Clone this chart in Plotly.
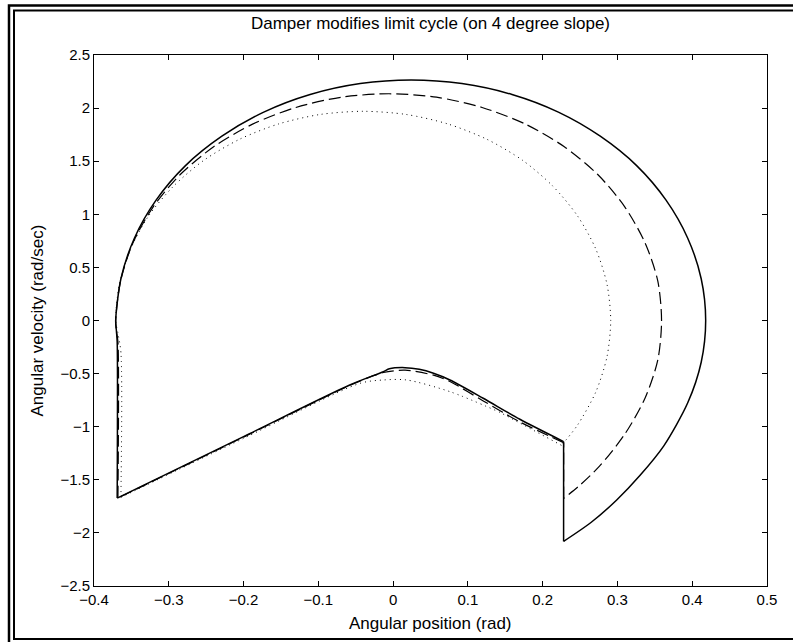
import plotly.graph_objects as go

# ---- data ----
solid_x = [-0.369, -0.369, -0.370, -0.371, -0.364, -0.346, -0.317, -0.278, -0.229, -0.173, -0.111, -0.044,
           0.024, 0.092, 0.159, 0.221, 0.277, 0.326, 0.365, 0.394, 0.412, 0.418, 0.412, 0.394, 0.362,
           0.330, 0.299, 0.265, 0.228, 0.228, 0.1695, 0.1205, 0.076, 0.054, 0.035, 0.016, -0.005,
           -0.013, -0.058, -0.200, -0.369]
solid_y = [-1.672, -0.200, -0.100, 0.000, 0.393, 0.775, 1.133, 1.456, 1.735, 1.962, 2.128, 2.231,
           2.265, 2.231, 2.128, 1.962, 1.735, 1.456, 1.133, 0.775, 0.393, 0.000, -0.393, -0.775, -1.180,
           -1.460, -1.690, -1.900, -2.080, -1.140, -0.930, -0.732, -0.560, -0.497, -0.460, -0.444, -0.455,
           -0.482, -0.607, -1.093, -1.672]

dashed_x = [-0.368, -0.368, -0.370, -0.371, -0.3645, -0.348, -0.321, -0.285, -0.240, -0.188, -0.130, -0.069,
            -0.0055, 0.058, 0.119, 0.177, 0.229, 0.274, 0.310, 0.337, 0.354, 0.359, 0.354, 0.337, 0.310,
            0.276, 0.2475, 0.228, 0.228, 0.1695, 0.120, 0.076, 0.054, 0.016, -0.013, -0.058, -0.200, -0.368]
dashed_y = [-1.672, -0.200, -0.100, 0.000, 0.371, 0.730, 1.068, 1.372, 1.636, 1.849, 2.006, 2.103,
            2.135, 2.103, 2.006, 1.849, 1.636, 1.372, 1.068, 0.730, 0.371, 0.000, -0.371, -0.730, -1.068,
            -1.372, -1.565, -1.675, -1.150, -0.955, -0.755, -0.575, -0.515, -0.468, -0.490, -0.612, -1.098, -1.672]

dotted_x = [-0.364, -0.364, -0.368, -0.371, -0.366, -0.351, -0.327, -0.2935, -0.253, -0.2055, -0.153, -0.0976,
            -0.040, 0.0176, 0.073, 0.1255, 0.173, 0.2135, 0.2466, 0.271, 0.286, 0.291, 0.286, 0.271, 0.2466,
            0.227, 0.225, 0.143, 0.076, 0.018, -0.013, -0.044, -0.200, -0.364]
dotted_y = [-1.665, -0.300, -0.120, 0.000, 0.342, 0.674, 0.985, 1.266, 1.509, 1.706, 1.851, 1.940,
            1.970, 1.940, 1.851, 1.706, 1.509, 1.266, 0.985, 0.674, 0.342, 0.000, -0.342, -0.674, -0.985,
            -1.160, -1.175, -0.865, -0.670, -0.560, -0.560, -0.591, -1.110, -1.665]

x_ticks = [-0.4, -0.3, -0.2, -0.1, 0, 0.1, 0.2, 0.3, 0.4, 0.5]
x_tick_labels = ["\u22120.4", "\u22120.3", "\u22120.2", "\u22120.1", "0", "0.1", "0.2", "0.3", "0.4", "0.5"]
y_ticks = [-2.5, -2, -1.5, -1, -0.5, 0, 0.5, 1, 1.5, 2, 2.5]
y_tick_labels = ["\u22122.5", "\u22122", "\u22121.5", "\u22121", "\u22120.5", "0", "0.5", "1", "1.5", "2", "2.5"]

title_text = "Damper modifies limit cycle (on 4 degree slope)"
x_title = "Angular position (rad)"
y_title = "Angular velocity (rad/sec)"

FONT = "Liberation Sans, Arial, sans-serif"
TICK_SIZE = 15
TITLE_SIZE = 17

styles = {
    "solid": dict(color="black", width=1.5),
    "dashed": dict(color="black", width=1.2, dash="12px,5px"),
    "dotted": dict(color="black", width=1.0, dash="1px,4px"),
}

fig = go.Figure()


def add_curve(xs, ys, style):
    # split: arc part (up to jump bottom), jump (vertical), lower path
    ys_list = list(ys)
    j = max(range(len(xs)), key=lambda i: (xs[i] > 0.2 and i > 5) * (-ys_list[i]))
    parts = [(xs[:j + 1], ys[:j + 1], "spline"),
             (xs[j:j + 2], ys[j:j + 2], "linear"),
             (xs[j + 1:], ys[j + 1:], "spline")]
    for px_, py_, shape in parts:
        fig.add_trace(go.Scatter(x=px_, y=py_, mode="lines", line=dict(shape=shape, smoothing=0.8, **style),
                                 showlegend=False, hoverinfo="skip"))


add_curve(solid_x, solid_y, styles["solid"])
add_curve(dashed_x, dashed_y, styles["dashed"])
add_curve(dotted_x, dotted_y, styles["dotted"])

W, H = 793, 642
L, R, T, B = 94, 767, 55, 586
pw, ph = R - L, B - T


def px(v):
    return (v - L) / pw


def py(v):
    return (B - v) / ph


shapes = []
# outer double frame (right side / outer bottom fall outside the picture)
for (x0, y0, x1, y1, w) in [(9, 5.5, 800, 646, 2.5), (14, 10.5, 797, 639, 2.0)]:
    shapes.append(dict(type="rect", xref="paper", yref="paper",
                       x0=px(x0), x1=px(x1), y0=py(y1), y1=py(y0),
                       line=dict(color="black", width=w), fillcolor="rgba(0,0,0,0)", layer="above"))

annotations = [
    dict(text=x_title, xref="paper", yref="paper", x=px((L + R) / 2), y=py(623),
         xanchor="center", yanchor="middle", showarrow=False, font=dict(family=FONT, size=TITLE_SIZE)),
    dict(text=y_title, xref="paper", yref="paper", x=px(37), y=py((T + B) / 2), textangle=-90,
         xanchor="center", yanchor="middle", showarrow=False, font=dict(family=FONT, size=TITLE_SIZE)),
]

fig.update_layout(
    width=W, height=H,
    margin=dict(l=L, r=W - R, t=T, b=H - B, pad=0),
    paper_bgcolor="white", plot_bgcolor="white",
    font=dict(family=FONT, size=TICK_SIZE, color="black"),
    title=dict(text=title_text, x=(L + R) / 2 / W, xanchor="center", y=1 - 23 / H, yanchor="middle",
               font=dict(family=FONT, size=TITLE_SIZE, color="black")),
    xaxis=dict(range=[-0.4, 0.5], tickmode="array", tickvals=x_ticks, ticktext=x_tick_labels,
               ticks="inside", ticklen=5, tickcolor="black", showline=True, linecolor="black",
               linewidth=1, mirror="ticks", showgrid=False, zeroline=False,
               tickfont=dict(family=FONT, size=TICK_SIZE)),
    yaxis=dict(range=[-2.5, 2.5], tickmode="array", tickvals=y_ticks, ticktext=y_tick_labels,
               ticks="inside", ticklen=5, tickcolor="black", showline=True, linecolor="black",
               linewidth=1, mirror="ticks", showgrid=False, zeroline=False,
               tickfont=dict(family=FONT, size=TICK_SIZE)),
    shapes=shapes,
    annotations=annotations,
)

fig.write_html("out.html")
